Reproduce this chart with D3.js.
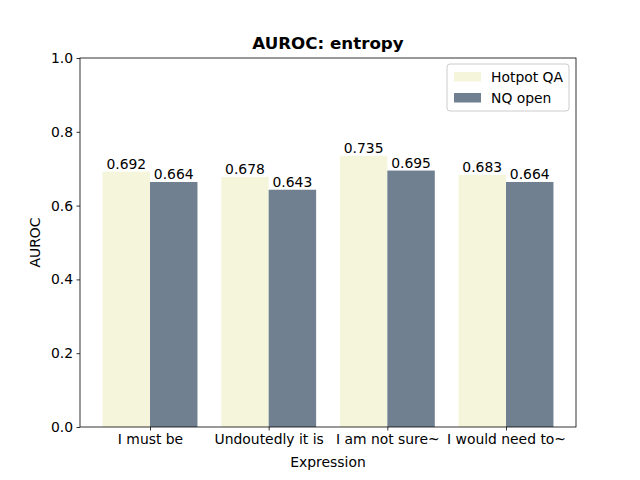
<!DOCTYPE html>
<html>
<head>
<meta charset="utf-8">
<script src="https://cdn.jsdelivr.net/npm/d3@7"></script>
<style>
  body { margin: 0; background: #fff; }
  svg { font-family: "DejaVu Sans", sans-serif; }
</style>
</head>
<body>
<figure style="margin:0"></figure>
<script>
const expressions = ["I must be", "Undoutedly it is", "I am not sure~", "I would need to~"];
const seriesNames = ["Hotpot QA", "NQ open"];
const hotpotQA = [0.692, 0.678, 0.735, 0.683];
const nqOpen = [0.664, 0.643, 0.695, 0.664];
const yTicks = [0.0, 0.2, 0.4, 0.6, 0.8, 1.0];

const colors = ["#f5f5dc", "#708090"];
const series = [hotpotQA, nqOpen];
const fs = 13.9;

const width = 640;
const height = 480;
const margin = { top: 58, right: 64, bottom: 53, left: 80 };
const barWidth = 0.4;

const svg = d3.select("figure").append("svg")
  .attr("width", width).attr("height", height);

const x = d3.scaleLinear()
  .domain([-0.59, expressions.length - 1 + 0.59])
  .range([margin.left, width - margin.right]);
const y = d3.scaleLinear()
  .domain([0, 1])
  .range([height - margin.bottom, margin.top]);

const bars = svg.append("g");
series.forEach((vals, s) => {
  const offset = (s - 0.5) * barWidth;
  bars.selectAll(`rect.s${s}`)
    .data(vals)
    .join("rect")
    .attr("class", `s${s}`)
    .attr("x", (d, i) => x(i + offset - barWidth / 2))
    .attr("width", x(barWidth) - x(0))
    .attr("y", (d) => y(d))
    .attr("height", (d) => y(0) - y(d))
    .attr("fill", colors[s]);

  bars.selectAll(`text.s${s}`)
    .data(vals)
    .join("text")
    .attr("class", `s${s}`)
    .attr("x", (d, i) => x(i + offset))
    .attr("y", (d) => y(d) - 3)
    .attr("text-anchor", "middle")
    .attr("font-size", fs)
    .text((d) => d.toFixed(3));
});

const xAxis = svg.append("g")
  .attr("transform", `translate(0,${height - margin.bottom})`)
  .call(d3.axisBottom(x).tickValues(d3.range(expressions.length))
    .tickFormat((i) => expressions[i]).tickSizeOuter(0).tickSize(3.5).tickPadding(3.5));
const yAxis = svg.append("g")
  .attr("transform", `translate(${margin.left},0)`)
  .call(d3.axisLeft(y).tickValues(yTicks).tickFormat(d3.format(".1f"))
    .tickSizeOuter(0).tickSize(3.5).tickPadding(3.5));

[xAxis, yAxis].forEach((g) => {
  g.selectAll("text").attr("font-size", fs).attr("fill", "#000")
    .attr("font-family", "DejaVu Sans, sans-serif");
  g.selectAll("line").attr("stroke", "#000").attr("stroke-width", 0.8);
  g.select(".domain").remove();
});

// frame
svg.append("rect")
  .attr("x", margin.left).attr("y", margin.top)
  .attr("width", width - margin.left - margin.right)
  .attr("height", height - margin.top - margin.bottom)
  .attr("fill", "none").attr("stroke", "#000").attr("stroke-width", 0.8);

svg.append("text")
  .attr("x", (margin.left + width - margin.right) / 2)
  .attr("y", 467)
  .attr("text-anchor", "middle").attr("font-size", fs)
  .text("Expression");

svg.append("text")
  .attr("transform", `translate(40,${(margin.top + height - margin.bottom) / 2}) rotate(-90)`)
  .attr("text-anchor", "middle").attr("font-size", fs)
  .text("AUROC");

svg.append("text")
  .attr("x", (margin.left + width - margin.right) / 2)
  .attr("y", 49)
  .attr("text-anchor", "middle").attr("font-size", 16.7).attr("font-weight", "bold")
  .text("AUROC: entropy");

// legend
const legend = svg.append("g").attr("transform", "translate(447,64)");
legend.append("rect")
  .attr("width", 122).attr("height", 47).attr("rx", 3)
  .attr("fill", "#fff").attr("fill-opacity", 0.8)
  .attr("stroke", "#ccc").attr("stroke-width", 1);
legend.selectAll("g")
  .data(seriesNames)
  .join("g")
  .attr("transform", (d, i) => `translate(7,${7 + i * 21})`)
  .each(function (d, i) {
    const g = d3.select(this);
    g.append("rect").attr("width", 27).attr("height", 9.5).attr("y", 1)
      .attr("fill", colors[i]);
    g.append("text").attr("x", 37).attr("y", 11).attr("font-size", fs).text(d);
  });
</script>
</body>
</html>
